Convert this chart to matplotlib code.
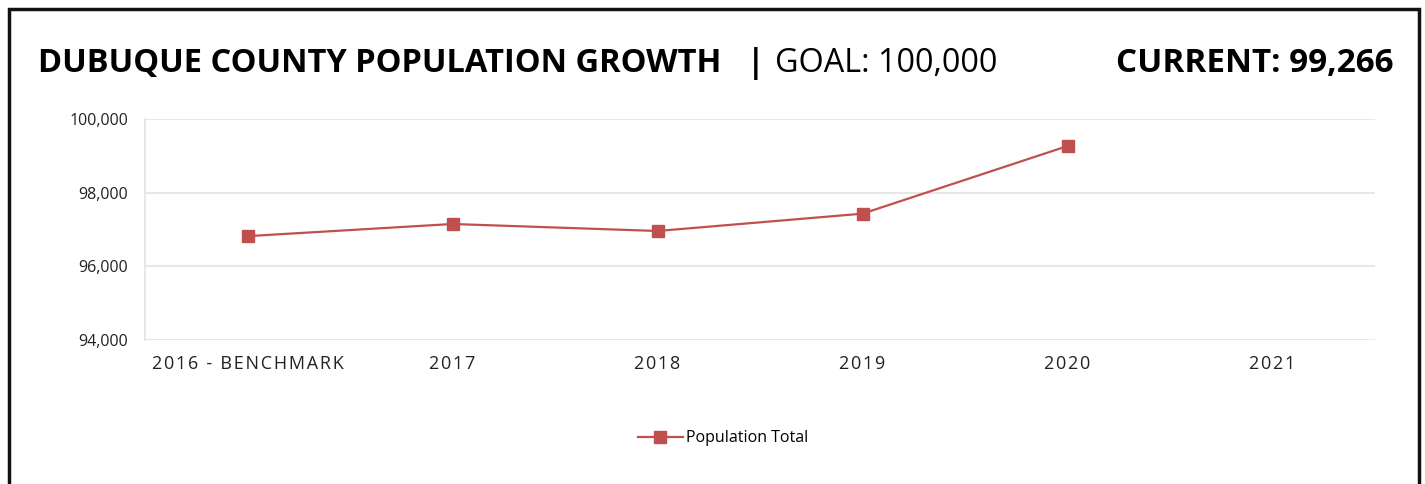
import matplotlib.pyplot as plt
from matplotlib.patches import Rectangle
from matplotlib.ticker import FuncFormatter

years = ["2016 - BENCHMARK", "2017", "2018", "2019", "2020", "2021"]
population = [96820, 97150, 96960, 97430, 99266]
y_ticks = [94000, 96000, 98000, 100000]

line_color = "#c0504d"
grid_color = "#e3e3e3"
HAIR = "\u200a"

plt.rcParams['font.family'] = ['Open Sans', 'DejaVu Sans']


def tracked(s, n=1):
    # fake letter spacing with hair spaces
    return (HAIR * n).join(s)


def fit_width(fig, txt, target_px):
    r = fig.canvas.get_renderer()
    w = txt.get_window_extent(r).width
    txt.set_fontsize(txt.get_fontsize() * target_px / w)


fig = plt.figure(figsize=(14.25, 4.84), dpi=100)
ax = fig.add_axes([0.1018, 0.2975, 0.8631, 0.4566])

x = list(range(len(population)))
ax.plot(x, population, color=line_color, lw=1.6, marker="s", ms=9,
        label="Population Total")

ax.set_xlim(-0.5, len(years) - 0.5)
ax.set_ylim(94000, 100000)
ax.set_xticks(range(len(years)))
ax.set_xticklabels([tracked(y) for y in years], fontsize=13, color="#222222")
ax.set_yticks(y_ticks)
ax.yaxis.set_major_formatter(FuncFormatter(lambda v, p: f"{int(v):,}"))
ax.tick_params(axis="y", labelsize=11.5, colors="#222222", length=0, pad=12)
ax.tick_params(axis="x", length=0, pad=11)
ax.grid(axis="y", color=grid_color, lw=1.2)
ax.set_axisbelow(True)
for s in ["top", "right", "bottom"]:
    ax.spines[s].set_visible(False)
ax.spines["left"].set_color(grid_color)
ax.spines["left"].set_linewidth(1.2)

ax.legend(loc="center", bbox_to_anchor=(0.47, -0.445), frameon=False,
          fontsize=11.5, handlelength=2.8, handletextpad=0.2)

# titles
base = 1 - 72 / 484
t1 = fig.text(38 / 1425, base, "DUBUQUE COUNTY POPULATION GROWTH",
              fontsize=22, fontweight="bold", ha="left", va="baseline")
fig.text(747 / 1425, base, "|", fontsize=23, fontweight="bold",
         ha="left", va="baseline")
t2 = fig.text(775 / 1425, base, "GOAL: 100,000", fontsize=21,
              ha="left", va="baseline")
t3 = fig.text(1393 / 1425, base, "CURRENT: 99,266", fontsize=24,
              fontweight="bold", ha="right", va="baseline")
fit_width(fig, t1, 684)
fit_width(fig, t2, 223)
fit_width(fig, t3, 278)

# border
fig.patches.append(Rectangle((9 / 1425, -0.1), 1410 / 1425, 1.1 - 9 / 484,
                             transform=fig.transFigure, fill=False,
                             edgecolor="#111111", lw=2.5))

fig.savefig("out.png", dpi=100)
